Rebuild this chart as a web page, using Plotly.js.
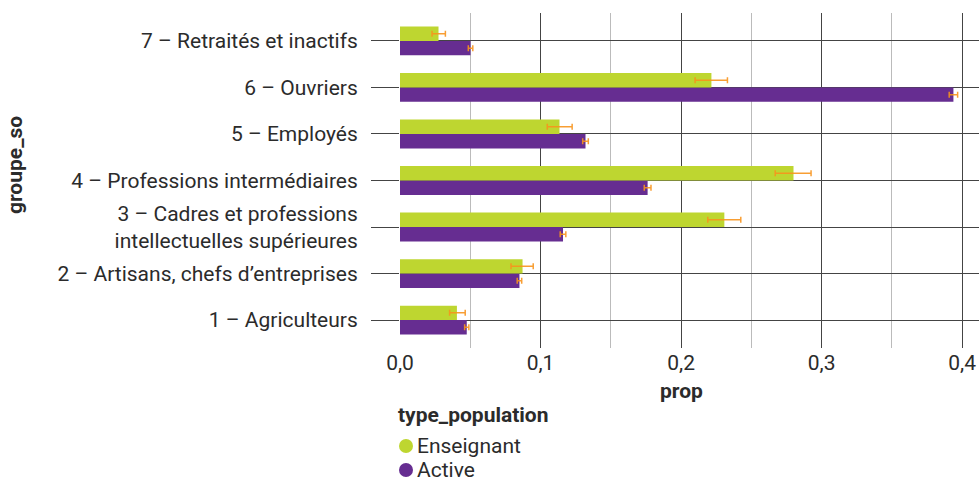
<!DOCTYPE html>
<html>
<head>
<meta charset="utf-8">
<script src="https://cdn.plot.ly/plotly-3.0.1.min.js"></script>
<style>html,body{margin:0;padding:0;background:#fff;}#chart{width:979px;height:484px;}</style>
</head>
<body>
<div id="chart"></div>
<script>
const categories = [
  "1 – Agriculteurs",
  "2 – Artisans, chefs d’entreprises",
  "3 – Cadres et professions<br>intellectuelles supérieures",
  "4 – Professions intermédiaires",
  "5 – Employés",
  "6 – Ouvriers",
  "7 – Retraités et inactifs"
];
const enseignant = [0.0405, 0.0872, 0.2308, 0.2800, 0.1135, 0.2216, 0.0274];
const enseignantErrMinus = [0.0052, 0.0082, 0.0118, 0.0130, 0.0087, 0.0116, 0.0046];
const enseignantErrPlus  = [0.0059, 0.0076, 0.0117, 0.0125, 0.0090, 0.0114, 0.0049];
const active = [0.0475, 0.0850, 0.1160, 0.1762, 0.1320, 0.3938, 0.0502];
const activeErr = [0.0015, 0.0016, 0.0020, 0.0024, 0.0020, 0.0030, 0.0016];
const xTickVals = [0, 0.1, 0.2, 0.3, 0.4];
const legendNames = ["Enseignant", "Active"];

const FONT = "'Roboto', sans-serif";
const GREEN = "#bed630", PURPLE = "#662d91", ORANGE = "rgba(247,148,29,0.9)";
const TXT = "#2b2b2b";

// plot area geometry (pixels)
const L = 400, T = 13, W = 579, H = 335;
const px = x => (x - L) / W;
const py = y => (T + H - y) / H;

const traces = [
  {type:'bar', orientation:'h', name:'Active', y:categories, x:active, marker:{color:PURPLE},
   error_x:{type:'data', array:activeErr, color:ORANGE, thickness:1.5, width:3}, showlegend:false, hoverinfo:'x'},
  {type:'bar', orientation:'h', name:'Enseignant', y:categories, x:enseignant, marker:{color:GREEN},
   error_x:{type:'data', symmetric:false, array:enseignantErrPlus, arrayminus:enseignantErrMinus, color:ORANGE, thickness:1.5, width:3}, showlegend:false, hoverinfo:'x'}
];

const legendColors = [GREEN, PURPLE];
const legendY = [446, 470];
const shapes = legendNames.map((n, i) => ({
  type:'circle', xref:'paper', yref:'paper', xsizemode:'pixel', ysizemode:'pixel',
  xanchor:px(406), yanchor:py(legendY[i]), x0:-7, x1:7, y0:-7, y1:7,
  fillcolor:legendColors[i], line:{width:0}
}));
const annotations = [
  {text:'<b>prop</b>', xref:'paper', yref:'paper', x:px(681), y:py(391), xanchor:'center', yanchor:'middle', showarrow:false, font:{size:21}},
  {text:'<b>groupe_so</b>', xref:'paper', yref:'paper', x:px(15), y:py(165), xanchor:'center', yanchor:'middle', textangle:-90, showarrow:false, font:{size:21}},
  {text:'<b>type_population</b>', xref:'paper', yref:'paper', x:px(396), y:py(415), xanchor:'left', yanchor:'middle', showarrow:false, font:{size:21}}
].concat(legendNames.map((n, i) => ({
  text:n, xref:'paper', yref:'paper', x:px(416), y:py(legendY[i]), xanchor:'left', yanchor:'middle', showarrow:false, borderpad:0, font:{size:21}
})));

const layout = {
  width:979, height:484,
  margin:{l:L, r:979 - L - W, t:T, b:484 - T - H, pad:0, autoexpand:false},
  paper_bgcolor:'#fff', plot_bgcolor:'#fff',
  separators:', ',
  font:{family:FONT, size:21, color:TXT},
  barmode:'group', bargap:0.38, bargroupgap:0,
  xaxis:{range:[0, 0.412], tickvals:xTickVals, tickformat:'.1f', showgrid:true, gridcolor:'#444', gridwidth:1,
    minor:{dtick:0.05, showgrid:true, gridcolor:'#bbb', gridwidth:1}, zeroline:false, showline:false,
    ticks:'', ticklabelstandoff:0, tickfont:{size:21}, automargin:false},
  yaxis:{type:'category', range:[-0.6, 6.6], showgrid:true, gridcolor:'#444', gridwidth:1, zeroline:false, showline:false,
    ticks:'outside', ticklen:28, tickcolor:'#444', tickwidth:1, ticklabelstandoff:9, tickfont:{size:21}, automargin:false},
  showlegend:false,
  shapes:shapes,
  annotations:annotations
};

Plotly.newPlot('chart', traces, layout, {displayModeBar:false, staticPlot:true});
</script>
</body>
</html>
